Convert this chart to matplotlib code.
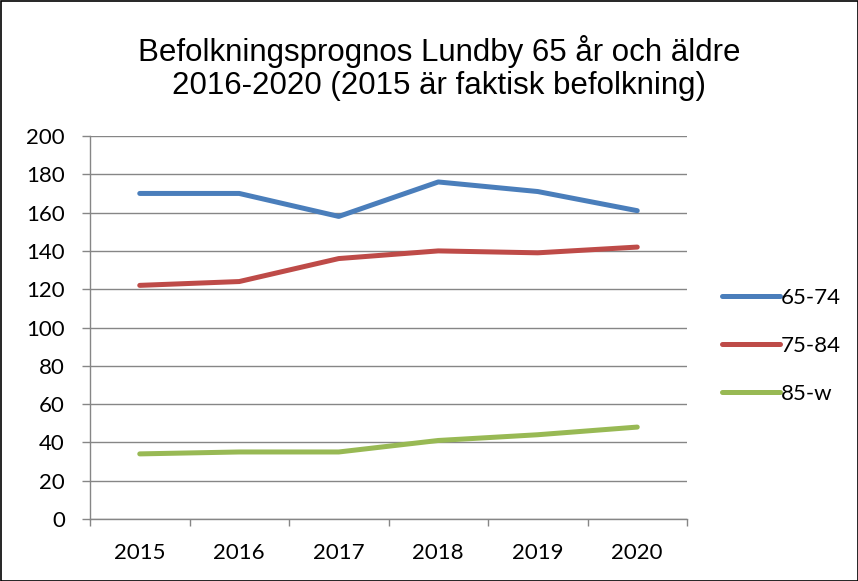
import matplotlib
matplotlib.use("Agg")
import matplotlib.pyplot as plt
from matplotlib.patches import Rectangle

years = ["2015", "2016", "2017", "2018", "2019", "2020"]
s65_74 = [170, 170, 158, 176, 171, 161]
s75_84 = [122, 124, 136, 140, 139, 142]
s85_w = [34, 35, 35, 41, 44, 48]
series_names = ["65-74", "75-84", "85-w"]
colors = ["#4A7EBB", "#BE4B48", "#98B954"]
title = "Befolkningsprognos Lundby 65 år och äldre\n2016-2020 (2015 är faktisk befolkning)"

fig = plt.figure(figsize=(8.58, 5.81), dpi=100)
ax = fig.add_axes([90/858, 1-519/581, (687-90)/858, (519-136)/581])

x = list(range(len(years)))
for vals, name, c in zip([s65_74, s75_84, s85_w], series_names, colors):
    ax.plot(x, vals, color=c, lw=3.6, solid_capstyle="round", solid_joinstyle="round", label=name)

ax.set_xlim(-0.5, len(years) - 0.5)
ax.set_ylim(0, 200)
ax.set_yticks(range(0, 201, 20))
ax.set_xticks(x)
ax.set_xticklabels(years)
ax.set_xticks([i - 0.5 for i in range(len(years) + 1)], minor=True)
ax.tick_params(axis="x", which="major", length=0, pad=17)
ax.tick_params(axis="x", which="minor", length=5, color="#868686", width=1)
ax.tick_params(axis="y", length=6, color="#868686", width=1, pad=12)
for lab in ax.get_xticklabels() + ax.get_yticklabels():
    lab.set_fontfamily("Lato")
    lab.set_fontsize(16)
ax.grid(axis="y", color="#868686", lw=1)
ax.set_axisbelow(True)
for sp in ["top", "right"]:
    ax.spines[sp].set_visible(False)
for sp in ["left", "bottom"]:
    ax.spines[sp].set_color("#868686")
    ax.spines[sp].set_linewidth(1)

fig.text(439/858, 1-68/581, title, ha="center", va="center", fontsize=22.5,
         family="Liberation Sans", linespacing=1.15)

leg = fig.legend(loc="center left", bbox_to_anchor=(702/858, 1-346/581), frameon=False,
                 prop={"family": "Lato", "size": 16}, handlelength=2.6,
                 handletextpad=0.05, labelspacing=1.25)

fig.patches.append(Rectangle((0.5/858, 0.5/581), 1-1/858, 1-1/581, transform=fig.transFigure,
                             fill=False, edgecolor="black", lw=1.2))

fig.savefig("out.png", dpi=100)
